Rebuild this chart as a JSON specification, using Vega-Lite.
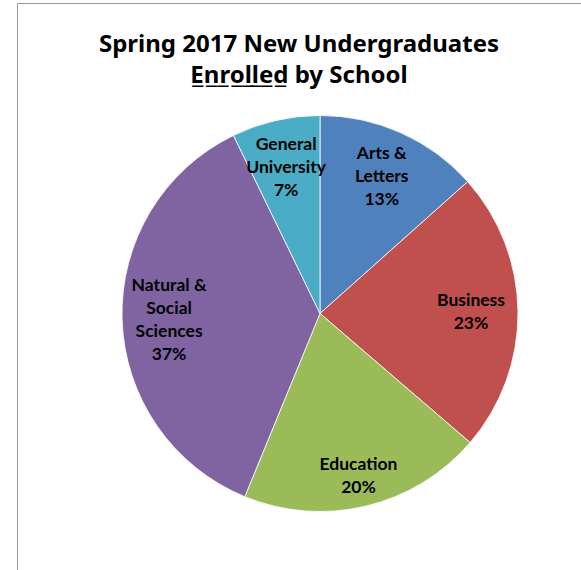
{
  "$schema": "https://vega.github.io/schema/vega-lite/v6.json",
  "width": 564,
  "height": 567,
  "autosize": "none",
  "padding": {"left": 17, "top": 3, "right": 0, "bottom": 0},
  "background": "white",
  "view": {"stroke": "#999999", "strokeWidth": 1, "fill": "white"},
  "title": {
    "text": ["Spring 2017 New Undergraduates", "E̲n̲r̲o̲l̲l̲e̲d̲ by School"],
    "font": "Noto Sans",
    "fontSize": 24,
    "fontWeight": "bold",
    "color": "black",
    "anchor": "middle",
    "offset": -85,
    "lineHeight": 31
  },
  "data": {
    "values": [
      {"school": "Arts & Letters", "label": "Arts &\nLetters\n13%", "value": 13.4, "order": 1},
      {"school": "Business", "label": "Business\n23%", "value": 22.9, "order": 2},
      {"school": "Education", "label": "Education\n20%", "value": 19.9, "order": 3},
      {"school": "Natural & Social Sciences", "label": "Natural &\nSocial\nSciences\n37%", "value": 36.6, "order": 4},
      {"school": "General University", "label": "General\nUniversity\n7%", "value": 7.2, "order": 5}
    ]
  },
  "encoding": {
    "theta": {"field": "value", "type": "quantitative", "stack": true},
    "order": {"field": "order", "type": "quantitative"}
  },
  "layer": [
    {
      "mark": {"type": "arc", "outerRadius": 198, "xOffset": 21, "yOffset": 27, "stroke": "white", "strokeWidth": 0.8},
      "encoding": {
        "color": {
          "field": "school",
          "type": "nominal",
          "scale": {
            "domain": ["Arts & Letters", "Business", "Education", "Natural & Social Sciences", "General University"],
            "range": ["#4F81BD", "#C0504D", "#9BBB59", "#8064A2", "#4BACC6"]
          },
          "legend": null
        }
      }
    },
    {
      "mark": {"type": "text", "radius": 151, "xOffset": 21, "yOffset": 27, "dy": -21.5, "font": "Lato", "fontSize": 17.5, "fontWeight": "bold", "color": "black", "lineBreak": "\n", "lineHeight": 23, "align": "center", "baseline": "middle"},
      "encoding": {
        "text": {"condition": {"test": "datum.school == 'Arts & Letters' || datum.school == 'General University'", "field": "label"}, "value": ""}
      }
    },
    {
      "mark": {"type": "text", "radius": 151, "xOffset": 21, "yOffset": 27, "dy": -11, "font": "Lato", "fontSize": 17.5, "fontWeight": "bold", "color": "black", "lineBreak": "\n", "lineHeight": 23, "align": "center", "baseline": "middle"},
      "encoding": {
        "text": {"condition": {"test": "datum.school == 'Business'", "field": "label"}, "value": ""}
      }
    },
    {
      "mark": {"type": "text", "radius": 151, "xOffset": 21, "yOffset": 27, "dy": -32.5, "font": "Lato", "fontSize": 17.5, "fontWeight": "bold", "color": "black", "lineBreak": "\n", "lineHeight": 23, "align": "center", "baseline": "middle"},
      "encoding": {
        "text": {"condition": {"test": "datum.school == 'Natural & Social Sciences'", "field": "label"}, "value": ""}
      }
    },
    {
      "mark": {"type": "text", "radius": 165, "xOffset": 21, "yOffset": 27, "dy": -8.5, "font": "Lato", "fontSize": 17.5, "fontWeight": "bold", "color": "black", "lineBreak": "\n", "lineHeight": 23, "align": "center", "baseline": "middle"},
      "encoding": {
        "text": {"condition": {"test": "datum.school == 'Education'", "field": "label"}, "value": ""}
      }
    }
  ]
}
